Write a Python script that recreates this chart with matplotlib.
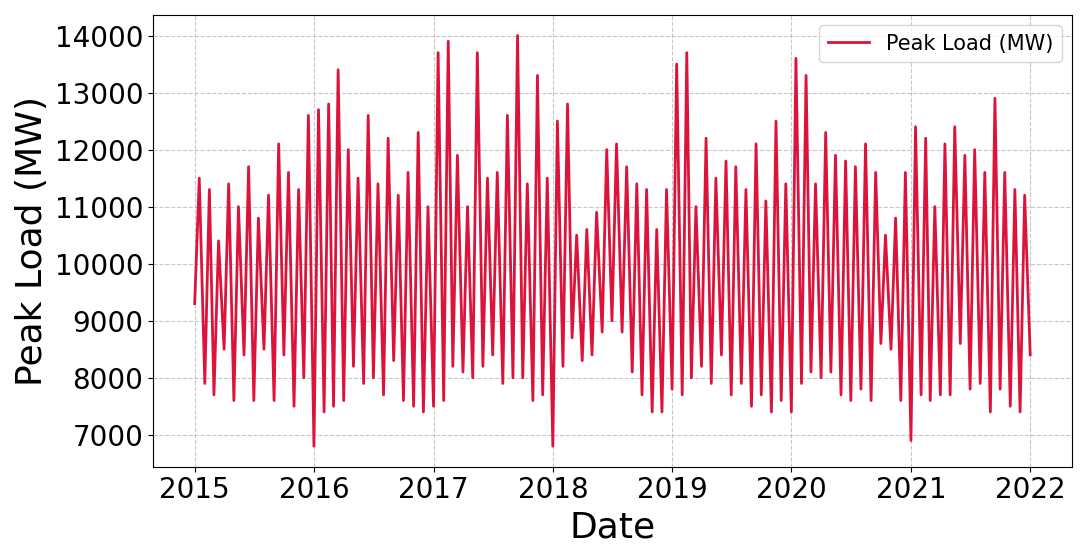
import numpy as np
import pandas as pd
import matplotlib
matplotlib.use("Agg")
import matplotlib.pyplot as plt

# Approximate semi-monthly peak load readings (MW)
load_2015 = [9300, 11500, 7900, 11300, 7700, 10400, 8500, 11400, 7600, 11000, 8400, 11700,
             7600, 10800, 8500, 11200, 7600, 12100, 8400, 11600, 7500, 11300, 8000, 12600]
load_2016 = [6800, 12700, 7400, 12800, 7500, 13400, 7600, 12000, 8200, 11500, 7900, 12600,
             8000, 11400, 7700, 12200, 8300, 11200, 7600, 11600, 7500, 12300, 7400, 11000]
load_2017 = [7500, 13700, 7600, 13900, 8200, 11900, 8100, 11000, 8000, 13700, 8200, 11500,
             8400, 11600, 7900, 12600, 8000, 14000, 8000, 11400, 7600, 13300, 7700, 11500]
load_2018 = [6800, 12500, 8200, 12800, 8700, 10500, 8300, 10600, 8400, 10900, 8800, 12000,
             9000, 12100, 8800, 11700, 8100, 11400, 7700, 11300, 7400, 10600, 7400, 11300]
load_2019 = [7800, 13500, 7700, 13700, 8000, 11000, 8200, 12200, 7900, 11500, 8400, 11800,
             7700, 11700, 7900, 11300, 7500, 12100, 7700, 11100, 7400, 12500, 7600, 11400]
load_2020 = [7400, 13600, 7900, 13300, 8100, 11400, 8000, 12300, 8100, 11900, 7700, 11800,
             7600, 11700, 7800, 12100, 7600, 11600, 8600, 10500, 8500, 10800, 7600, 11600]
load_2021 = [6900, 12400, 7700, 12200, 7600, 11000, 7700, 12100, 7700, 12400, 8600, 11900,
             7800, 12000, 7900, 11600, 7400, 12900, 7800, 11600, 7500, 11300, 7400, 11200]
load_end = [8400]

peak_load = (load_2015 + load_2016 + load_2017 + load_2018 + load_2019
             + load_2020 + load_2021 + load_end)
dates = pd.date_range("2015-01-01", periods=len(peak_load), freq="SMS")

fig, ax = plt.subplots(figsize=(10.87, 5.59), dpi=100)
ax.plot(dates, peak_load, color="crimson", linewidth=2, label="Peak Load (MW)")
ax.set_xlabel("Date", fontsize=26)
ax.set_ylabel("Peak Load (MW)", fontsize=26)
ax.tick_params(labelsize=20)
ax.grid(True, linestyle="--", alpha=0.7)
ax.legend(fontsize=15, loc="upper right")
plt.tight_layout()
plt.savefig("out.png")
